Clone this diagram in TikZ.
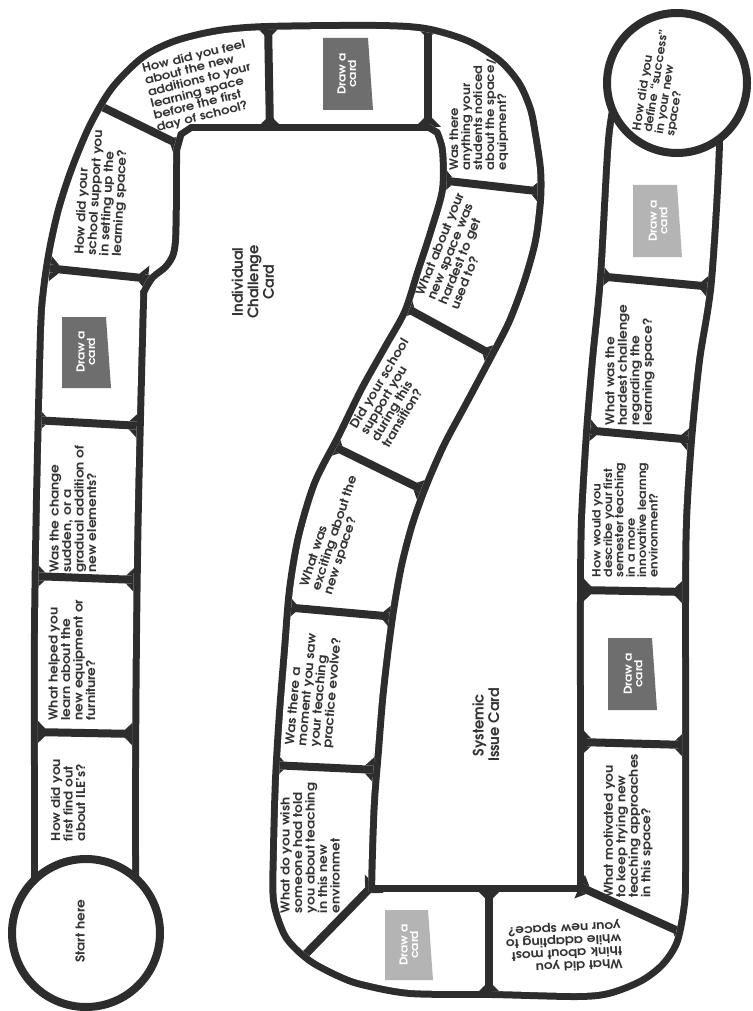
\documentclass[tikz,border=0pt]{standalone}
\usepackage{fontspec}
\usetikzlibrary{calc}
\setmainfont{TeX Gyre Adventor}[FakeStretch=1.12]
\newfontfamily\labfamily{TeX Gyre Adventor}
\definecolor{bandc}{HTML}{2D2D2D}
\definecolor{txt}{HTML}{333333}
\definecolor{cardd}{HTML}{6E6E6E}
\definecolor{cardl}{HTML}{B4B4B4}
\newcommand\qfont{\bfseries\fontsize{12.2}{12.5}\selectfont}
\newcommand\qsmall{\bfseries\fontsize{11.4}{11.4}\selectfont}
\newcommand\qmid{\bfseries\fontsize{11.7}{12}\selectfont}
\newcommand\lfont{\labfamily\bfseries\fontsize{14.5}{15.5}\selectfont}
\newcommand\cfont{\bfseries\fontsize{11}{10.5}\selectfont}
% the white inside of the track
\newcommand\bandpath{(38,905) -- plot[smooth] coordinates {(38,860) (38,767) (38,633) (40,500) (44,333) (47,290) (53,250) (62,210) (75,170) (93,127) (115,90) (145,60) (177,44) (219,34) (268,30) (376,29) (425,32) (466,44) (497,63) (516,85) (527,110) (532,135) (537,170) (537,200) (532,240) (521,280) (506,320) (487,357) (463,402) (441,443) (423,484) (409,523) (398,565) (390,610) (384,655) (379,700) (375,750) (371,800) (369,850) (368,892)}
 -- plot[smooth] coordinates {(584,892) (584,800) (584,700) (584,600) (585,520) (590,433) (596,360) (604,277) (612,140) (620,92)}
 -- plot[smooth] coordinates {(710,92) (716,140) (708,280) (696,360) (688,440) (683,520) (682,600) (682,670) (682,770) (682,870) (681,903) (674,940) (660,962) (639,978) (608,990) (576,993) (493,991) (411,990) (362,981) (340,973) (315,960) (299,947) (287,932) (277,900) (277,850) (279,780) (283,713) (288,650) (293,590) (302,537) (318,484) (342,437) (365,390) (388,349) (408,313) (421,273) (434,233) (446,190) (446,150) (440,130)}
 -- (430,124) -- (190,124) -- (178,132)
 -- plot[smooth] coordinates {(173,150) (172,240) (165,262) (150,275) (141,290) (140,300) (135,500) (133,633) (132,767) (132,860) (132,905)}
 -- cycle}
% separator between two squares, with small corner fillets at both ends
\newcommand\filletend[2]{%
  \coordinate (fP) at ($(#1)!4pt!(#2)$);
  \coordinate (fQ) at ($(#1)!13pt!(#2)$);
  \fill[bandc] ($(fP)!4pt!90:(#2)$) -- ($(fP)!13pt!90:(#2)$) -- ($(fQ)!4pt!90:(#2)$) -- cycle;
  \fill[bandc] ($(fP)!4pt!-90:(#2)$) -- ($(fP)!13pt!-90:(#2)$) -- ($(fQ)!4pt!-90:(#2)$) -- cycle;}
\newcommand\sepline[2]{%
  \draw[sep] (#1) -- (#2);
  \filletend{#1}{#2}\filletend{#2}{#1}}
\begin{document}
\begin{tikzpicture}[x=1pt,y=-1pt,
  q/.style={font=\qfont, text=txt, align=left, inner sep=0pt},
  lab/.style={font=\lfont, text=txt, align=center, inner sep=0pt, rotate=90},
  cardtxt/.style={font=\cfont, text=white, align=center, inner sep=0pt, rotate=90},
  sep/.style={draw=bandc, line width=8pt},
  ring/.style={draw=bandc, line width=8pt, fill=white}]
\useasboundingbox (0,0) rectangle (752,1011);
\fill[white] (0,0) rectangle (752,1011);

% track
\fill[white, preaction={draw=bandc, line width=14pt, line join=round}] \bandpath;

% separators between squares (kept inside the track)
\begin{scope}
\clip \bandpath;
\sepline{33,420}{142,426}
\sepline{32,576}{139,580}
\sepline{32,732}{138,734}
\sepline{46,268}{152,279}
\sepline{84,98}{184,147}
\sepline{268,22}{270,132}
\sepline{428,22}{428,131}
\sepline{439,180}{545,192}
\sepline{401,305}{496,357}
\sepline{329,444}{427,492}
\sepline{283,607}{396,617}
\sepline{271,765}{378,770}
\sepline{295,965}{377,881}
\sepline{489,885}{489,998}
\sepline{576,885}{687,935}
\sepline{578,742}{688,745}
\sepline{578,590}{688,592}
\sepline{584,430}{694,440}
\sepline{596,276}{714,287}
\end{scope}

% circles
\draw[ring] (86,933) circle (74);
\draw[ring] (677,83) circle (70);

% draw-a-card boxes
\fill[cardd] (62,317) -- (106,317) -- (111,388) -- (62,388) -- cycle;
\fill[cardd] (323,38) -- (368,38) -- (373,110) -- (323,110) -- cycle;
\fill[cardl] (385,910) -- (428,910) -- (433,980) -- (385,980) -- cycle;
\fill[cardd] (608,638) -- (652,638) -- (657,710) -- (608,710) -- cycle;
\fill[cardl] (633,185) -- (677,185) -- (682,257) -- (633,257) -- cycle;
\node[cardtxt] (c5) at (86,352) {Draw a\\card};
\node[cardtxt] (c8) at (347,74) {Draw a\\card};
\node[cardtxt] (c15) at (409,945) {Draw a\\card};
\node[cardtxt] (c18) at (633,674) {Draw a\\card};
\node[cardtxt] (c21) at (658,221) {Draw a\\card};

% texts
\node[q, rotate=90] (start) at (80,931) {Start here};
\node[q, rotate=90] (q2) at (68,800) {How did you\\first find out\\about ILE’s?};
\node[q, rotate=90] (q3) at (72,660) {What helped you\\learn about the\\new equipment or\\furniture?};
\node[q, rotate=90] (q4) at (73,509) {Was the change\\sudden, or a\\gradual addition of\\new elements?};
\node[q, rotate=87] (q6) at (102,193) {How did your\\school support you\\in setting up the\\learning space?};
\node[q, rotate=14, font=\qmid] (q7) at (201,86) {How did you feel\\about the new\\additions to your\\learning space\\before the first\\day of school?};
\node[q, rotate=90, font=\qmid] (q9) at (479,114) {Was there\\anything your\\students noticed\\about the space/\\equipment?};
\node[q, rotate=68] (q10) at (457,251) {What about your\\new space was\\hardest to get\\used to?};
\node[q, rotate=59] (q11) at (395,393) {Did your school\\support you\\during this\\transition?};
\node[q, rotate=72] (q12) at (335,533) {What was\\exciting about the\\new space?};
\node[q, rotate=85] (q13) at (314,690) {Was there a\\moment you saw\\your teaching\\practice evolve?};
\node[q, rotate=90] (q14) at (310,848) {What do you wish\\someone had told\\you about teaching\\in this new\\environmet};
\node[q, rotate=183] (q16) at (564,947) {What did you\\think about most\\while adapting to\\your new space?};
\node[q, rotate=90] (q17) at (628,826) {What motivated you\\to keep trying new\\teaching approaches\\in this space?};
\node[q, rotate=90, font=\qsmall] (q19) at (625,520) {How would you\\describe your first\\semester teaching\\in a more\\innovative learnng\\environment?};
\node[q, rotate=90] (q20) at (630,365) {What was the\\hardest challenge\\regarding the\\learning space?};
\node[q, rotate=81, font=\qsmall] (q22) at (662,82) {How did you\\define ``success''\\in your new\\space?};

\node[lab] (icc) at (253,282) {Individual\\Challenge\\Card};
\node[lab] (sic) at (486,725) {Systemic\\Issue Card};
\end{tikzpicture}
\end{document}
